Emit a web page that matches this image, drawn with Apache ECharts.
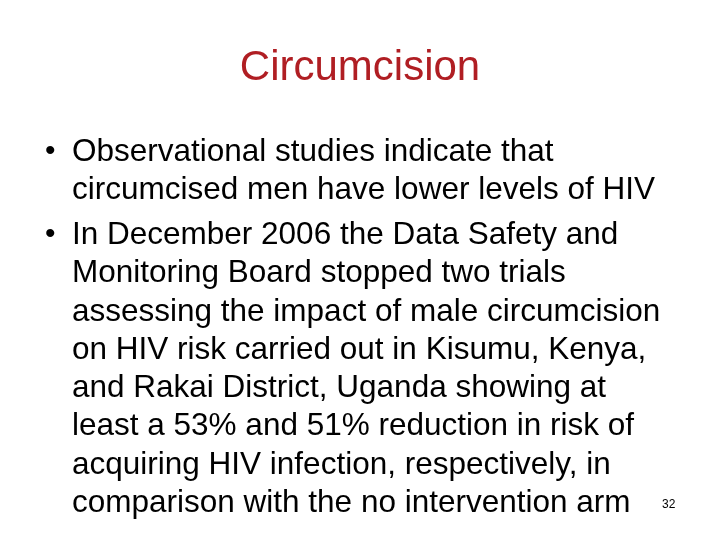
<!DOCTYPE html>
<html><head><meta charset="utf-8">
<script src="https://cdn.jsdelivr.net/npm/echarts@6/dist/echarts.min.js"></script>
<style>html,body{margin:0;padding:0;background:#fff}#c{width:720px;height:540px}</style>
</head><body><div id="c"></div>
<script>
const title = "Circumcision";
const bullet1 = ["Observational studies indicate that", "circumcised men have lower levels of HIV"];
const bullet2 = ["In December 2006 the Data Safety and", "Monitoring Board stopped two trials", "assessing the impact of male circumcision", "on HIV risk carried out in Kisumu, Kenya,", "and Rakai District, Uganda showing at", "least a 53% and 51% reduction in risk of", "acquiring HIV infection, respectively, in", "comparison with the no intervention arm"];
const pageNum = "32";
const lineY1 = [152, 190];
const lineY2 = [235, 273, 312, 350, 388, 426, 465, 503];

const chart = echarts.init(document.getElementById('c'));
const font = '"Liberation Sans", Arial, sans-serif';
const els = [];
els.push({type:'text', x:360, y:68, style:{text:title, font:'42px '+font, fill:'#b01e23', textAlign:'center', textVerticalAlign:'middle'}});
function addBullet(lines, ys){
  els.push({type:'text', x:45, y:ys[0], style:{text:'•', font:'30px '+font, fill:'#000', textVerticalAlign:'middle'}});
  lines.forEach((t,i)=>els.push({type:'text', x:72, y:ys[i], style:{text:t, font:'31.5px '+font, fill:'#000', textVerticalAlign:'middle'}}));
}
addBullet(bullet1, lineY1);
addBullet(bullet2, lineY2);
els.push({type:'text', x:662, y:505, style:{text:pageNum, font:'12px '+font, fill:'#000', textVerticalAlign:'middle'}});
chart.setOption({backgroundColor:'#fff', graphic:els});
</script></body></html>
